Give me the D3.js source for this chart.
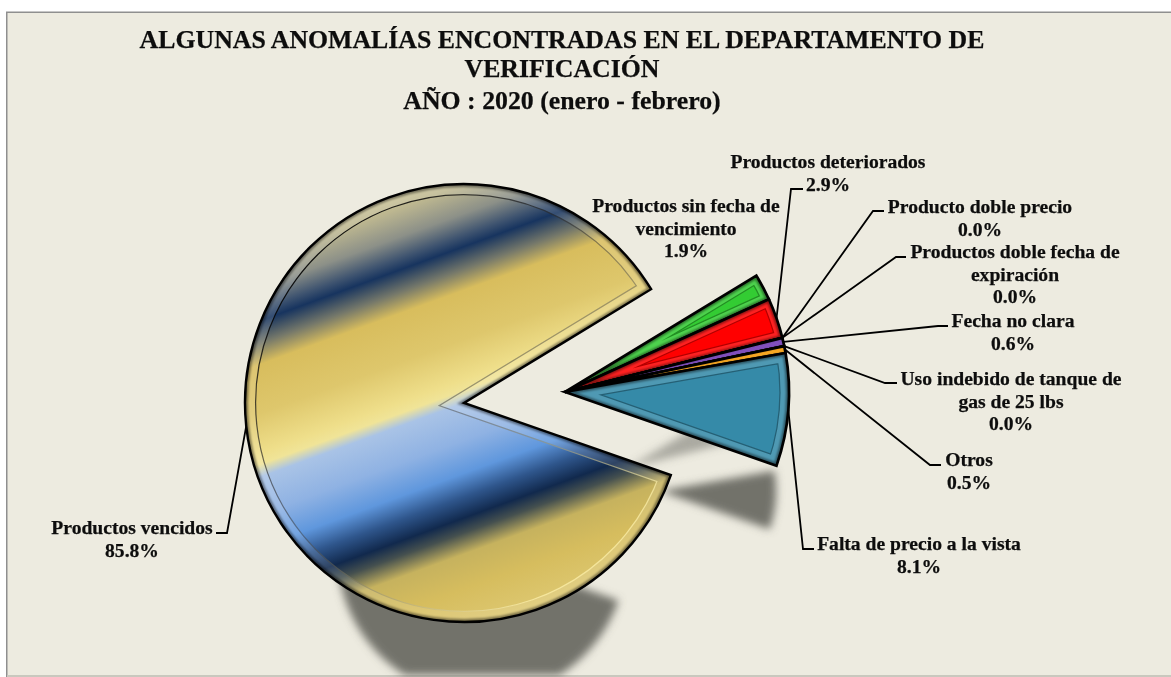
<!DOCTYPE html>
<html>
<head>
<meta charset="utf-8">
<script src="https://cdn.jsdelivr.net/npm/d3@7"></script>
<style>
html, body { margin: 0; padding: 0; background: #fff; overflow: hidden; }
text { font-family: "Liberation Serif", serif; font-weight: bold; fill: #0d0d0d; stroke: #0d0d0d; stroke-width: 0.25px; }
</style>
</head>
<body>
<svg id="chart"></svg>
<script>
var width = 1171, height = 677

var titleLines = [
    "ALGUNAS ANOMALÍAS ENCONTRADAS EN EL DEPARTAMENTO DE",
    "VERIFICACIÓN",
    "AÑO : 2020 (enero - febrero)"
]
var categories = [
    "Productos vencidos",
    "Productos sin fecha de vencimiento",
    "Productos deteriorados",
    "Producto doble precio",
    "Productos doble fecha de expiración",
    "Fecha no clara",
    "Uso indebido de tanque de gas de 25 lbs",
    "Otros",
    "Falta de precio a la vista"
]
var values = [85.8, 1.9, 2.9, 0.0, 0.0, 0.6, 0.0, 0.5, 8.1]
var colors = ["url(#gold)", "#33cc33", "#ff0000", "#4f81bd", "#c0504d", "#8150bd", "#2c4d75", "#f7a823", "#358aa8"]

// label placement, one entry per category: wrapped lines, centre x, first baseline, leader bend and stub end
var labelLayout = [
    { lines: ["Productos vencidos"], x: 132, y: 534, bend: [227, 533], stub: [216, 533] },
    { lines: ["Productos sin fecha de", "vencimiento"], x: 686, y: 212 },
    { lines: ["Productos deteriorados"], x: 828, y: 168, bend: [791, 189], stub: [803, 189] },
    { lines: ["Producto doble precio"], x: 980, y: 213, bend: [873, 211], stub: [884, 211] },
    { lines: ["Productos doble fecha de", "expiración"], x: 1015, y: 258, bend: [896, 257], stub: [906, 257] },
    { lines: ["Fecha no clara"], x: 1013, y: 327, bend: [938, 326], stub: [948, 326] },
    { lines: ["Uso indebido de tanque de", "gas de 25 lbs"], x: 1011, y: 385, bend: [885, 383], stub: [897, 383] },
    { lines: ["Otros"], x: 969, y: 466, bend: [930, 465], stub: [941, 465] },
    { lines: ["Falta de precio a la vista"], x: 919, y: 550, bend: [803, 549], stub: [814, 549] }
]

var mainCenter = [464, 403], explodedCenter = [565, 392]
var radius = 219
var startDeg = 109.2
var rad = Math.PI / 180

var svg = d3.select("#chart")
    .attr("width", width)
    .attr("height", height)
    .style("display", "block")

var defs = svg.append("defs")

// banded metallic fill of the big slice, tilted about 20 degrees
var bandStops = [
    [-232, "#d8cf9c"], [-205, "#bdb790"], [-178, "#8c9088"], [-158, "#3f5470"], [-147, "#17345f"],
    [-126, "#75786a"], [-106, "#d8bd5d"], [-60, "#dec76c"], [-22, "#efdf8b"], [-12, "#f0e498"],
    [0, "#a9c3e6"], [35, "#8fb2e3"], [66, "#5f97dd"], [88, "#2f568c"], [108, "#11294d"],
    [122, "#45504f"], [142, "#c6b25e"], [175, "#d6bd5e"], [232, "#e0cc78"]
]
var nx = Math.sin(20 * rad), ny = Math.cos(20 * rad)
defs.append("linearGradient")
    .attr("id", "gold")
    .attr("gradientUnits", "userSpaceOnUse")
    .attr("x1", -232 * nx).attr("y1", -232 * ny)
    .attr("x2", 232 * nx).attr("y2", 232 * ny)
    .selectAll("stop")
    .data(bandStops)
    .enter()
    .append("stop")
    .attr("offset", function(d) { return (d[0] + 232) / 464 })
    .attr("stop-color", function(d) { return d[1] })

// bevel lighting: the groove is dark on the upper left and pale on the lower right
var groove = defs.append("linearGradient")
    .attr("id", "groove")
    .attr("gradientUnits", "userSpaceOnUse")
    .attr("x1", -150).attr("y1", -150).attr("x2", 120).attr("y2", 150)
groove.append("stop").attr("offset", 0).attr("stop-color", "#000").attr("stop-opacity", 0.9)
groove.append("stop").attr("offset", 0.5).attr("stop-color", "#444").attr("stop-opacity", 0.5)
groove.append("stop").attr("offset", 1).attr("stop-color", "#fff3b0").attr("stop-opacity", 0.7)

defs.append("filter").attr("id", "shadowBlur")
    .attr("x", "-20%").attr("y", "-20%").attr("width", "140%").attr("height", "140%")
    .append("feGaussianBlur").attr("stdDeviation", 4)
defs.append("filter").attr("id", "edgeBlur")
    .attr("x", "-10%").attr("y", "-10%").attr("width", "120%").attr("height", "120%")
    .append("feGaussianBlur").attr("stdDeviation", 1.2)
defs.append("clipPath").attr("id", "frameClip")
    .append("rect").attr("x", 7).attr("y", 500).attr("width", width).attr("height", 175)

// frame
svg.append("rect")
    .attr("x", 6.75).attr("y", 12.25)
    .attr("width", width).attr("height", height)
    .attr("fill", "#edebe0")
    .attr("stroke", "#8f8f8f")
    .attr("stroke-width", 1.5)
svg.append("path")
    .attr("d", "M7," + (height - 1) + "H" + width)
    .attr("stroke", "#c9c8be").attr("stroke-width", 2)

var pie = d3.pie()
    .sort(null)
    .value(function(d) { return d })
    .startAngle(startDeg * rad)
    .endAngle((startDeg + 360) * rad)
var arcs = pie(values)
var arc = d3.arc().innerRadius(0).outerRadius(radius)
var arcX = d3.arc().innerRadius(0).outerRadius(radius + 5)

// shadows: shrunken copies of the slices thrown down and to the right
var shadows = svg.append("g")
    .attr("filter", "url(#shadowBlur)")
    .attr("fill", "#72726b")
function shadow(from, to, x, y, k, opacity, clip) {
    shadows.append("g")
        .attr("clip-path", clip ? "url(#frameClip)" : null)
        .selectAll("path")
        .data(arcs.slice(from, to))
        .enter()
        .append("path")
        .attr("transform", "translate(" + x + "," + y + ") scale(" + k + ")")
        .attr("d", arc)
        .attr("opacity", opacity)
}
shadow(0, 1, 482, 553, 0.66, 1, true)
shadow(1, 3, 628, 468, 0.5, 0.55, false)
shadow(8, 9, 660, 491, 0.53, 1, false)

// leader lines
function centerOf(i) { return i === 0 ? mainCenter : explodedCenter }
function anchor(i) {
    var a = (arcs[i].startAngle + arcs[i].endAngle) / 2
    var c = centerOf(i), r = i === 0 ? radius : radius + 5
    return [c[0] + r * Math.sin(a), c[1] - r * Math.cos(a)]
}
var leaders = svg.append("g")
    .attr("fill", "none").attr("stroke", "#000").attr("stroke-width", 1.8)
labelLayout.forEach(function(l, i) {
    if (!l.bend) return
    leaders.append("path").attr("d", d3.line()([anchor(i), l.bend, l.stub]))
})

// slices
var slices = svg.selectAll("g.slice")
    .data(arcs)
    .enter()
    .append("g")
    .attr("class", "slice")
    .attr("transform", function(d, i) {
        var c = centerOf(i)
        return "translate(" + c[0] + "," + c[1] + ")"
    })

slices.each(function(d, i) {
    var g = d3.select(this)
    var shape = i === 0 ? arc(d) : arcX(d)
    var rim = i === 0 ? 20 : i === 8 ? 17 : 13
    var thin = values[i] < 1
    var id = "clip" + i
    defs.append("clipPath").attr("id", id).append("path").attr("d", shape)
    var inner = g.append("g").attr("clip-path", "url(#" + id + ")")
        .attr("fill", "none").attr("stroke-linejoin", "miter").attr("stroke-miterlimit", 30)

    inner.append("path").attr("d", shape).attr("fill", colors[i])
    if (!thin) {
        // groove, then the raised rim outside it
        inner.append("path").attr("d", shape)
            .attr("stroke", i === 0 ? "url(#groove)" : "#000")
            .attr("stroke-opacity", i === 0 ? 1 : 0.3)
            .attr("stroke-width", rim + 2.5)
        inner.append("path").attr("d", shape).attr("stroke", colors[i]).attr("stroke-width", rim)
        inner.append("path").attr("d", shape).attr("stroke", "#fff").attr("stroke-opacity", 0.13).attr("stroke-width", rim)
    }
    // dark soft edge next to the outline
    inner.append("path").attr("d", shape).attr("stroke", "#000").attr("stroke-opacity", thin ? 0.2 : 0.45)
        .attr("stroke-width", thin ? 2 : 6).attr("filter", "url(#edgeBlur)")

    g.append("path").attr("d", shape)
        .attr("fill", "none")
        .attr("stroke", "#000")
        .attr("stroke-width", i === 0 ? 2.4 : 2.7)
        .attr("stroke-linejoin", "miter")
        .attr("stroke-miterlimit", 8)
})

// title
svg.append("g").selectAll("text")
    .data(titleLines)
    .enter()
    .append("text")
    .attr("x", 562)
    .attr("y", function(d, i) { return [48, 77, 109][i] })
    .attr("text-anchor", "middle")
    .attr("font-size", 25.8)
    .text(function(d) { return d })

// data labels
var pct = function(v) { return v.toFixed(1) + "%" }
labelLayout.forEach(function(l, i) {
    var lines = l.lines.concat([pct(values[i])])
    svg.append("g").selectAll("text")
        .data(lines)
        .enter()
        .append("text")
        .attr("x", l.x)
        .attr("y", function(d, j) { return l.y + j * 22.5 })
        .attr("text-anchor", "middle")
        .attr("font-size", 19.6)
        .text(function(d) { return d })
})
</script>
</body>
</html>
